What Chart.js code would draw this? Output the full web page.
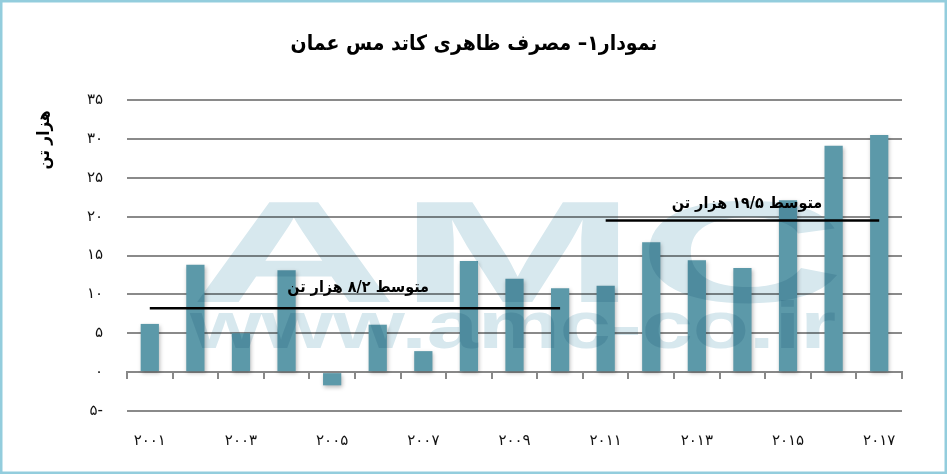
<!DOCTYPE html>
<html><head><meta charset="utf-8">
<script src="https://cdn.jsdelivr.net/npm/chart.js@4/dist/chart.umd.min.js"></script>
<style>html,body{margin:0;padding:0;background:#fff}canvas{display:block}</style>
</head><body>
<canvas id="c" width="947" height="474" style="width:947px;height:474px"></canvas>
<script>
// ---- data ----
const years = [2001,2002,2003,2004,2005,2006,2007,2008,2009,2010,2011,2012,2013,2014,2015,2016,2017];
const consumption = [6.2,13.8,5.0,13.1,-1.7,6.1,2.7,14.3,12.0,10.8,11.1,16.7,14.4,13.4,22.1,29.1,30.5];
const averageStart = [2001, 2011];
const averageEnd = [2010, 2017];
const averageValues = [8.2, 19.5];
const averageLabels = ['متوسط ۸/۲ هزار تن', 'متوسط ۱۹/۵ هزار تن'];
const yTicks = [-5,0,5,10,15,20,25,30,35];
const titleText = 'نمودار۱– مصرف ظاهری کاتد مس عمان';
const yTitleText = 'هزار تن';

const FA = '۰۱۲۳۴۵۶۷۸۹';
const toFa = s => String(s).replace(/[0-9]/g, d => FA[+d]);
const yearLabels = years.map(y => toFa(y));

const avgSeries = averageValues.map((v, i) =>
  years.map(y => (y >= averageStart[i] && y <= averageEnd[i]) ? v : null));

const FONT = "'DejaVu Sans', sans-serif";
const FONT_C = "'DejaVu Sans Condensed', 'DejaVu Sans', sans-serif";

const decor = {
  id: 'decor',
  beforeDatasetDraw(chart, args) {
    if (args.meta.type === 'bar') {
      const ctx = chart.ctx;
      ctx.save();
      ctx.shadowColor = 'rgba(0,0,0,0.28)';
      ctx.shadowBlur = 4;
      ctx.shadowOffsetX = 1;
      ctx.shadowOffsetY = 2;
    }
  },
  afterDatasetDraw(chart, args) {
    if (args.meta.type === 'bar') chart.ctx.restore();
  },
  afterDatasetsDraw(chart, args, opts) {
    const ctx = chart.ctx;
    // watermark
    const wm = opts.watermark;
    ctx.save();
    ctx.globalCompositeOperation = 'multiply';
    ctx.fillStyle = wm.color;
    ctx.textBaseline = 'alphabetic';
    ctx.textAlign = 'left';
    ctx.font = "bold " + wm.bigSize + "px 'Liberation Sans', sans-serif";
    let w = ctx.measureText(wm.big).width;
    ctx.save();
    ctx.translate(wm.x1, wm.bigBase);
    ctx.scale((wm.x2 - wm.x1) / w, 1);
    ctx.fillText(wm.big, 0, 0);
    ctx.restore();
    ctx.font = "bold " + wm.smallSize + "px 'Liberation Sans', sans-serif";
    w = ctx.measureText(wm.small).width;
    ctx.save();
    ctx.translate(wm.x1, wm.smallBase);
    ctx.scale((wm.x2s - wm.x1) / w, 1);
    ctx.fillText(wm.small, 0, 0);
    ctx.restore();
    ctx.restore();
    // average labels
    const xs = chart.scales.x, ys = chart.scales.y;
    ctx.save();
    ctx.fillStyle = '#000';
    ctx.font = 'bold 16px ' + FONT_C;
    ctx.textAlign = 'center';
    ctx.textBaseline = 'middle';
    opts.notes.forEach((n, i) => {
      ctx.fillText(averageLabels[i], xs.getPixelForValue(n.at), ys.getPixelForValue(n.y));
    });
    ctx.restore();
  },
  afterDraw(chart, args, opts) {
    const ctx = chart.ctx;
    // title
    ctx.save();
    ctx.font = 'bold 21px ' + FONT_C;
    ctx.fillStyle = '#000';
    ctx.textAlign = 'center';
    ctx.textBaseline = 'middle';
    ctx.fillText(titleText, opts.title.x, opts.title.y);
    ctx.restore();
    // y-axis title
    ctx.save();
    ctx.translate(opts.yTitle.x, opts.yTitle.y);
    ctx.rotate(-Math.PI / 2);
    ctx.font = 'bold 17px ' + FONT_C;
    ctx.fillStyle = '#000';
    ctx.textAlign = 'center';
    ctx.textBaseline = 'middle';
    ctx.fillText(yTitleText, 0, 0);
    ctx.restore();
    // frame
    ctx.save();
    ctx.strokeStyle = '#93cddd';
    ctx.lineWidth = 2.5;
    ctx.strokeRect(1.25, 1.25, chart.width - 2.5, chart.height - 2.5);
    ctx.restore();
  }
};

new Chart(document.getElementById('c'), {
  type: 'bar',
  data: {
    labels: yearLabels,
    datasets: [
      {
        type: 'bar',
        data: consumption,
        backgroundColor: '#5c99a9',
        borderWidth: 0,
        categoryPercentage: 1,
        barPercentage: 0.4,
        order: 2
      },
      ...avgSeries.map(s => ({
        type: 'line',
        data: s,
        borderColor: '#000',
        borderWidth: 2.5,
        pointRadius: 0,
        fill: false,
        spanGaps: false,
        order: 1
      }))
    ]
  },
  options: {
    responsive: false,
    animation: false,
    devicePixelRatio: 1,
    layout: { padding: { top: 100, left: 0, right: 45, bottom: 0 } },
    plugins: {
      legend: { display: false },
      tooltip: { enabled: false },
      title: { display: false },
      decor: {
        title: { x: 474, y: 45 },
        notes: [ { at: 4.57, y: 10.9 }, { at: 13.1, y: 21.7 } ],
        yTitle: { x: 45, y: 140 },
        watermark: {
          color: '#d7e8ee', big: 'AMC', bigSize: 145, bigBase: 302,
          small: 'www.amc-co.ir', smallSize: 66, smallBase: 348,
          x1: 190, x2: 845, x2s: 836
        }
      }
    },
    scales: {
      x: {
        type: 'category',
        position: 'bottom',
        grid: { display: false },
        border: { display: false },
        ticks: {
          autoSkip: false, maxRotation: 0, padding: 13,
          color: '#111',
          font: { family: FONT, size: 15 },
          callback: (v, i) => (i % 2 === 0 ? yearLabels[i] : '')
        },
        afterFit: s => { s.height = 63; }
      },
      x2: {
        type: 'category',
        labels: yearLabels,
        position: { y: 0 },
        offset: true,
        grid: { offset: true, drawOnChartArea: false, drawTicks: true, tickLength: 6, color: '#888', lineWidth: 2 },
        border: { display: true, color: '#888', width: 2 },
        ticks: { display: false }
      },
      y: {
        min: yTicks[0],
        max: yTicks[yTicks.length - 1],
        grid: { color: '#8a8a8a', lineWidth: 2, drawTicks: false },
        border: { display: false },
        ticks: {
          stepSize: yTicks[1] - yTicks[0],
          padding: 24,
          color: '#111',
          font: { family: FONT, size: 15 },
          callback: v => (v < 0 ? toFa(Math.abs(v)) + '-' : toFa(v))
        },
        afterFit: s => { s.width = 127; }
      }
    }
  },
  plugins: [decor]
});
</script>
</body></html>
